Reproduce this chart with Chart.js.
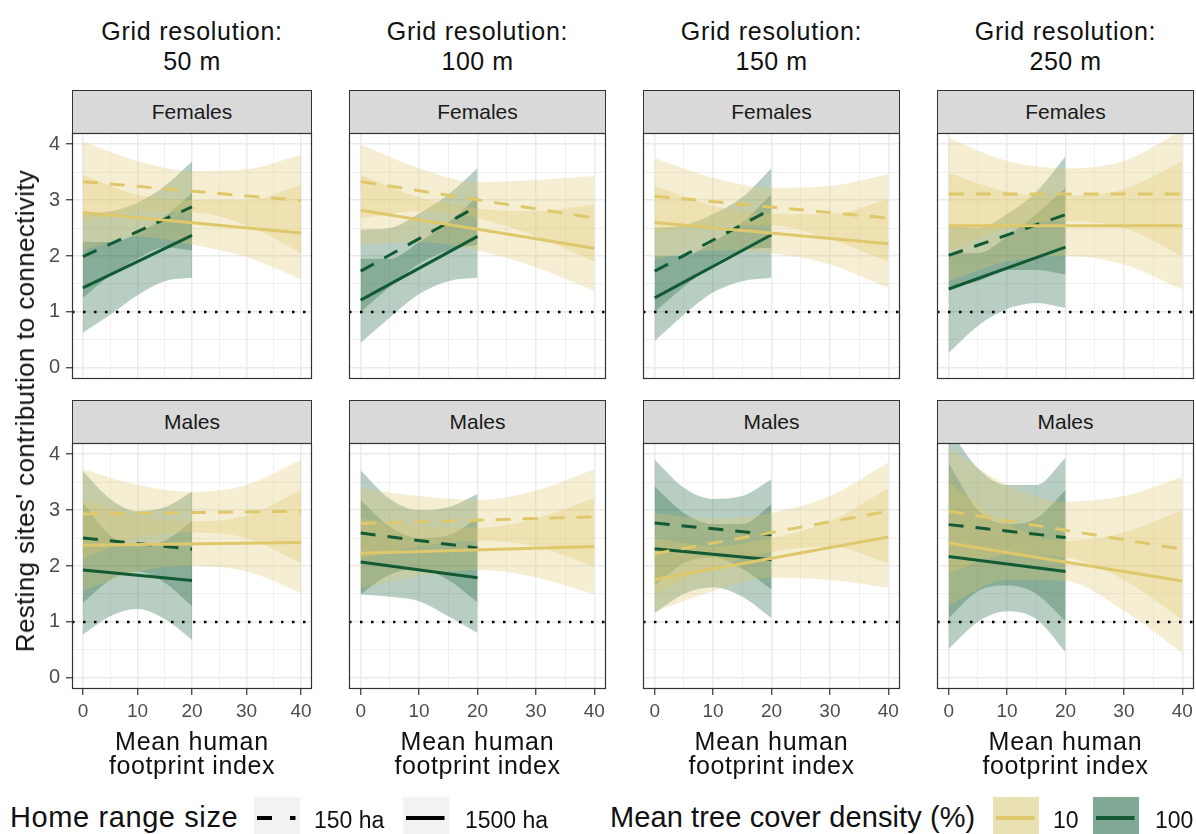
<!DOCTYPE html>
<html>
<head>
<meta charset="utf-8">
<script src="https://cdn.jsdelivr.net/npm/chart.js@4.4.0/dist/chart.umd.min.js"></script>
<style>
  body { margin: 0; background: #fff; }
  #fig { position: relative; width: 1196px; height: 834px; overflow: hidden; font-family: 'Liberation Sans', Arial, sans-serif; }
  .t { position: absolute; white-space: nowrap; line-height: 1; color: #111; }
  canvas { position: absolute; }
  .strip { position: absolute; box-sizing: border-box; background: #d9d9d9; border: 1.2px solid #333;
           display: flex; align-items: center; justify-content: center; font-size: 21px; color: #1a1a1a; }
  .key { position: absolute; background: #f2f2f2; }
</style>
</head>
<body>
<div id="fig"></div>
<script>
// facets
const resolutions = ['50 m', '100 m', '150 m', '250 m'];
const sexes = ['Females', 'Males'];

// x positions (mean human footprint index)
const xLine10 = [0, 40];
const xLine100 = [0, 20];
const xBand10 = [0, 10, 20, 30, 40];
const xBand100 = [0, 5, 10, 15, 20];
const xTicks = [0, 5, 10, 15, 20, 25, 30, 35, 40];
const yTicks = [0, 0.5, 1, 1.5, 2, 2.5, 3, 3.5, 4];
const refLevel = 1;

// panel order: F50, F100, F150, F250, M50, M100, M150, M250
// fitted lines, tree cover 10 % (x = 0, 40)
const fit10_150 = [[3.33, 2.99], [3.33, 2.68], [3.07, 2.68], [3.11, 3.11], [2.93, 2.98], [2.76, 2.88], [2.22, 2.98], [2.98, 2.30]];
const fit10_1500 = [[2.78, 2.41], [2.82, 2.14], [2.60, 2.22], [2.54, 2.54], [2.37, 2.42], [2.23, 2.35], [1.76, 2.52], [2.41, 1.73]];
// fitted lines, tree cover 100 % (x = 0, 20)
const fit100_150 = [[1.99, 2.88], [1.73, 2.89], [1.73, 2.84], [2.01, 2.74], [2.50, 2.30], [2.59, 2.32], [2.77, 2.56], [2.74, 2.51]];
const fit100_1500 = [[1.43, 2.37], [1.21, 2.35], [1.25, 2.38], [1.41, 2.16], [1.93, 1.74], [2.07, 1.79], [2.31, 2.11], [2.17, 1.90]];

// confidence bands, tree cover 10 % (x = 0, 10, 20, 30, 40)
const hi10_150 = [
  [4.05, 3.70, 3.52, 3.55, 3.81], [3.99, 3.57, 3.32, 3.36, 3.43], [3.75, 3.40, 3.22, 3.25, 3.46], [4.11, 3.70, 3.57, 3.70, 4.25],
  [3.73, 3.45, 3.33, 3.45, 3.90], [3.39, 3.25, 3.18, 3.35, 3.73], [2.95, 2.85, 2.95, 3.25, 3.85], [4.10, 3.45, 3.15, 3.25, 3.59]];
const lo10_150 = [
  [2.60, 2.78, 2.78, 2.55, 2.05], [2.67, 2.80, 2.68, 2.35, 1.90], [2.40, 2.55, 2.55, 2.30, 1.90], [2.10, 2.50, 2.62, 2.50, 1.99],
  [2.13, 2.50, 2.60, 2.50, 2.05], [2.13, 2.35, 2.45, 2.35, 1.99], [1.50, 1.97, 2.25, 2.35, 2.05], [1.86, 2.20, 2.15, 1.75, 1.04]];
const hi10_1500 = [
  [3.45, 3.10, 3.00, 3.00, 3.27], [3.45, 3.05, 2.85, 2.80, 2.92], [3.25, 2.90, 2.75, 2.75, 3.02], [3.48, 3.15, 3.08, 3.20, 3.69],
  [3.20, 2.90, 2.80, 2.90, 3.36], [2.85, 2.72, 2.68, 2.85, 3.21], [2.50, 2.35, 2.50, 2.80, 3.39], [3.50, 2.75, 2.45, 2.60, 3.00]];
const lo10_1500 = [
  [2.10, 2.35, 2.20, 1.98, 1.58], [2.20, 2.25, 2.10, 1.80, 1.37], [1.95, 2.10, 2.05, 1.85, 1.43], [1.55, 1.90, 2.00, 1.85, 1.40],
  [1.55, 1.90, 2.00, 1.90, 1.52], [1.60, 1.82, 1.93, 1.80, 1.49], [1.19, 1.55, 1.79, 1.75, 1.61], [1.30, 1.75, 1.73, 1.20, 0.45]];

// confidence bands, tree cover 100 % (x = 0, 5, 10, 15, 20)
const hi100_150 = [
  [2.75, 2.80, 2.95, 3.25, 3.69], [2.47, 2.50, 2.76, 3.10, 3.57], [2.50, 2.55, 2.75, 3.05, 3.57], [2.55, 2.50, 2.75, 3.15, 3.78],
  [3.69, 3.20, 2.98, 3.05, 3.33], [3.71, 3.20, 3.00, 3.05, 3.29], [3.90, 3.40, 3.20, 3.25, 3.55], [4.45, 3.75, 3.45, 3.45, 3.93]];
const lo100_150 = [
  [1.25, 1.65, 1.95, 2.15, 2.10], [1.00, 1.45, 1.86, 2.10, 2.20], [1.00, 1.45, 1.85, 2.10, 2.15], [1.45, 1.55, 1.75, 1.75, 1.67],
  [1.34, 1.75, 1.90, 1.70, 1.28], [1.50, 1.85, 1.95, 1.75, 1.35], [1.65, 2.05, 2.15, 1.95, 1.58], [1.07, 1.55, 1.65, 1.50, 1.01]];
const hi100_1500 = [
  [2.25, 2.25, 2.40, 2.70, 3.13], [1.95, 1.95, 2.25, 2.60, 3.07], [2.00, 2.00, 2.25, 2.60, 3.10], [2.05, 2.05, 2.35, 2.75, 3.21],
  [3.13, 2.55, 2.35, 2.45, 2.80], [3.18, 2.70, 2.50, 2.55, 2.85], [3.42, 2.95, 2.75, 2.75, 3.10], [3.84, 3.00, 2.75, 2.85, 3.36]];
const lo100_1500 = [
  [0.63, 0.95, 1.30, 1.55, 1.61], [0.45, 0.90, 1.32, 1.55, 1.61], [0.48, 0.95, 1.35, 1.55, 1.61], [0.27, 0.75, 1.05, 1.16, 1.07],
  [0.77, 1.10, 1.23, 1.05, 0.68], [1.49, 1.45, 1.37, 1.10, 0.80], [1.16, 1.50, 1.62, 1.45, 1.07], [0.52, 1.00, 1.19, 1.05, 0.46]];

const yellow = '#dfc86b', yellowFill = 'rgba(223,200,107,0.3)';
const green = '#115a33', greenFill = 'rgba(20,92,54,0.3)';
const FONT = "'Liberation Sans', Arial, sans-serif";

// panel geometry (page pixels)
const colLeft = [72, 349, 643, 937], colRight = [312, 606, 900, 1194];
const rowTop = [133, 443], rowBottom = [379, 689];
const stripTop = [90, 400];

const fig = document.getElementById('fig');

function addText(str, x, base, size, align, spacing) {
  const d = document.createElement('div');
  d.className = 't';
  d.textContent = str;
  d.style.fontSize = size + 'px';
  d.style.left = x + 'px';
  d.style.top = (base - 0.8465 * size) + 'px';
  if (spacing) d.style.letterSpacing = spacing + 'px';
  if (align === 'center') d.style.transform = 'translateX(-50%)';
  fig.appendChild(d);
  return d;
}

function pts(xs, ys) { return xs.map((x, i) => ({ x, y: ys[i] })); }

const panelBox = {
  id: 'panelBox',
  afterDraw(chart) {
    const { ctx, chartArea: a } = chart;
    ctx.save();
    ctx.strokeStyle = '#333';
    ctx.lineWidth = 1.2;
    ctx.strokeRect(a.left + 0.5, a.top + 0.5, a.width - 1, a.height - 1);
    ctx.restore();
  }
};

function ribbon(xs, hi, lo, fill) {
  return [
    { data: pts(xs, hi), borderColor: 'rgba(0,0,0,0)', backgroundColor: fill, fill: '+1', cubicInterpolationMode: 'monotone', order: 2 },
    { data: pts(xs, lo), borderColor: 'rgba(0,0,0,0)', fill: false, cubicInterpolationMode: 'monotone', order: 2 }
  ];
}

function fitLine(xs, ys, color, dashed) {
  return { data: pts(xs, ys), borderColor: color, borderWidth: 3, borderDash: dashed ? [15, 12] : [], fill: false, order: 1 };
}

function noPad(s) {
  s.paddingTop = 0; s.paddingBottom = 0; s.paddingLeft = 0; s.paddingRight = 0;
}

for (let r = 0; r < 2; r++) {
  for (let c = 0; c < 4; c++) {
    const p = r * 4 + c;
    const W = colRight[c] - colLeft[c], H = rowBottom[r] - rowTop[r];
    const padL = c === 0 ? 72 : 2;
    const padB = r === 1 ? 40 : 2;

    const strip = document.createElement('div');
    strip.className = 'strip';
    strip.style.left = colLeft[c] + 'px';
    strip.style.top = stripTop[r] + 'px';
    strip.style.width = W + 'px';
    strip.style.height = (rowTop[r] - stripTop[r] + 1) + 'px';
    strip.textContent = sexes[r];
    fig.appendChild(strip);

    const cv = document.createElement('canvas');
    cv.width = padL + W + 2;
    cv.height = 2 + H + padB;
    cv.style.left = (colLeft[c] - padL) + 'px';
    cv.style.top = (rowTop[r] - 2) + 'px';
    fig.appendChild(cv);

    const datasets = [
      { data: [{ x: -2, y: refLevel }, { x: 42, y: refLevel }], borderColor: '#000', borderWidth: 2.5, borderDash: [2.5, 8.5], fill: false, order: 0 },
      fitLine(xLine10, fit10_150[p], yellow, true),
      fitLine(xLine10, fit10_1500[p], yellow, false),
      fitLine(xLine100, fit100_150[p], green, true),
      fitLine(xLine100, fit100_1500[p], green, false),
      ...ribbon(xBand10, hi10_150[p], lo10_150[p], yellowFill),
      ...ribbon(xBand10, hi10_1500[p], lo10_1500[p], yellowFill),
      ...ribbon(xBand100, hi100_150[p], lo100_150[p], greenFill),
      ...ribbon(xBand100, hi100_1500[p], lo100_1500[p], greenFill)
    ];

    new Chart(cv, {
      type: 'line',
      data: { datasets },
      plugins: [panelBox],
      options: {
        responsive: false,
        maintainAspectRatio: false,
        animation: false,
        devicePixelRatio: 1,
        layout: { autoPadding: false, padding: { top: 2, right: 2, left: 0, bottom: 0 } },
        plugins: { legend: { display: false }, tooltip: { enabled: false } },
        elements: { point: { radius: 0 }, line: { borderCapStyle: 'butt' } },
        scales: {
          x: {
            type: 'linear', min: -2, max: 42,
            afterBuildTicks: a => { a.ticks = xTicks.map(v => ({ value: v })); },
            afterFit: s => { s.height = padB; noPad(s); },
            border: { display: false },
            grid: {
              color: '#ebebeb',
              lineWidth: ctx => (ctx.tick && ctx.tick.value % 10 === 0) ? 1.5 : 0.75,
              drawTicks: r === 1, tickLength: 6, tickWidth: 1.2,
              tickColor: ctx => (ctx.tick && ctx.tick.value % 10 === 0) ? '#333' : 'rgba(0,0,0,0)'
            },
            ticks: {
              display: r === 1, autoSkip: false, maxRotation: 0, padding: 5, color: '#4d4d4d',
              font: { family: FONT, size: 19 },
              callback: v => v % 10 === 0 ? String(v) : ''
            }
          },
          y: {
            type: 'linear', min: -0.2, max: 4.2,
            afterBuildTicks: a => { a.ticks = yTicks.map(v => ({ value: v })); },
            afterFit: s => { s.width = padL; noPad(s); },
            border: { display: false },
            grid: {
              color: '#ebebeb',
              lineWidth: ctx => (ctx.tick && Number.isInteger(ctx.tick.value)) ? 1.5 : 0.75,
              drawTicks: c === 0, tickLength: 6, tickWidth: 1.2,
              tickColor: ctx => (ctx.tick && Number.isInteger(ctx.tick.value)) ? '#333' : 'rgba(0,0,0,0)'
            },
            ticks: {
              display: c === 0, autoSkip: false, padding: 6, color: '#4d4d4d',
              font: { family: FONT, size: 20 },
              callback: v => Number.isInteger(v) ? String(v) : ''
            }
          }
        }
      }
    });
  }
}

// column titles and x-axis titles
for (let c = 0; c < 4; c++) {
  const cx = (colLeft[c] + colRight[c]) / 2;
  addText('Grid resolution:', cx, 40, 25, 'center', 0.75);
  addText(resolutions[c], cx, 70.5, 25, 'center', 0.5);
  addText('Mean human', cx, 750, 25, 'center', 0.8);
  addText('footprint index', cx, 774, 25, 'center', 0.6);
}

// y-axis title
const yt = document.createElement('div');
yt.className = 't';
yt.textContent = "Resting sites' contribution to connectivity";
yt.style.fontSize = '26px';
yt.style.letterSpacing = '0.35px';
yt.style.left = '25px';
yt.style.top = '411px';
yt.style.transform = 'translate(-50%, -50%) rotate(-90deg)';
fig.appendChild(yt);

// legends
function addKey(x, fillColor, lineColor, dash) {
  const k = document.createElement('div');
  k.className = 'key';
  k.style.left = x + 'px';
  k.style.top = '797px';
  k.style.width = '46px';
  k.style.height = '40px';
  if (fillColor) k.style.background = fillColor;
  k.innerHTML = '<svg width="46" height="40" style="position:absolute;left:0;top:0">' +
    '<line x1="3" y1="21" x2="41.5" y2="21" stroke="' + lineColor + '" stroke-width="4"' +
    (dash ? ' stroke-dasharray="' + dash + '"' : '') + '/></svg>';
  fig.appendChild(k);
}
addText('Home range size', 10, 828, 29, null, 0.6);
addKey(254, null, '#000', '15 18');
addText('150 ha', 314, 828, 23);
addKey(403, null, '#000', null);
addText('1500 ha', 465, 828, 23);
addText('Mean tree cover density (%)', 610, 828, 29, null, 0.1);
addKey(993, 'rgb(234,225,178)', yellow, null);
addText('10', 1053, 828, 23);
addKey(1093, 'rgb(129,168,148)', green, null);
addText('100', 1155, 828, 23);
</script>
</body>
</html>
